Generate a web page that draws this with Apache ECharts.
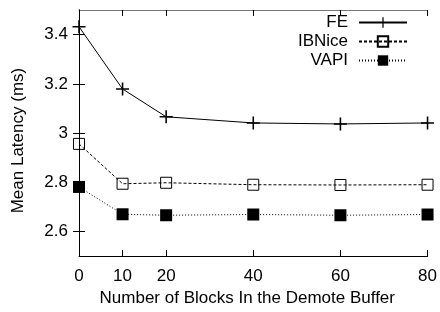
<!DOCTYPE html>
<html>
<head>
<meta charset="utf-8">
<script src="https://cdn.jsdelivr.net/npm/echarts@6/dist/echarts.min.js"></script>
<style>
  html, body { margin: 0; padding: 0; background: #fff; }
  #chart { width: 440px; height: 312px; }
</style>
</head>
<body>
<div id="chart"></div>
<script>
const xValues = [0, 10, 20, 40, 60, 80];
const feValues = [3.432, 3.179, 3.066, 3.041, 3.037, 3.041];
const ibniceValues = [2.956, 2.794, 2.798, 2.790, 2.789, 2.790];
const vapiValues = [2.781, 2.670, 2.666, 2.669, 2.666, 2.669];
const xTickLabels = [0, 10, 20, 40, 60, 80];
const yTickLabels = [2.6, 2.8, 3, 3.2, 3.4];

const font = 'Liberation Sans, Arial, sans-serif';
const plusPath = 'path://M0,4.4H10V5.6H0Z M4.4,0H5.6V10H4.4Z';

const chart = echarts.init(document.getElementById('chart'));

const pair = (ys) => xValues.map((x, i) => [x, ys[i]]);

const mirrorAxis = (extra) => Object.assign({
  type: 'value',
  axisLine: {show: true, lineStyle: {color: '#000', width: 1}},
  splitLine: {show: false},
  axisTick: {show: true, inside: true, length: 6, lineStyle: {color: '#000'}},
  axisLabel: {show: false}
}, extra);

let option = {
  animation: false,
  backgroundColor: '#fff',
  textStyle: {fontFamily: font},
  grid: {
    left: 79,
    right: 11,
    top: 10,
    bottom: 55
  },
  legend: {
    orient: 'vertical',
    right: 32,
    top: 14,
    padding: 0,
    align: 'right',
    itemWidth: 48,
    itemHeight: 13,
    itemGap: 2,
    textStyle: {
      fontFamily: font,
      fontSize: 17,
      color: '#000',
      lineHeight: 16,
      padding: [0, 6, 0, 0]
    },
    data: ['FE', 'IBNice', 'VAPI']
  },
  xAxis: [
    mirrorAxis({
      min: 0,
      max: 80,
      position: 'bottom',
      name: 'Number of Blocks In the Demote Buffer',
      nameLocation: 'middle',
      nameGap: 28,
      nameTextStyle: {fontFamily: font, fontSize: 17, color: '#000', padding: [0, 12, 0, 0]},
      axisTick: {show: true, inside: true, length: 6, customValues: xTickLabels, lineStyle: {color: '#000'}},
      axisLabel: {show: true, customValues: xTickLabels, margin: 12, fontFamily: font, fontSize: 17, color: '#000'}
    }),
    mirrorAxis({
      min: 0,
      max: 80,
      position: 'top',
      axisLine: {show: true, lineStyle: {color: '#777', width: 1}},
      axisTick: {show: true, inside: true, length: 6, customValues: xTickLabels, lineStyle: {color: '#000'}}
    })
  ],
  yAxis: [
    mirrorAxis({
      min: 2.5,
      max: 3.5,
      position: 'left',
      name: 'Mean Latency (ms)',
      nameLocation: 'middle',
      nameGap: 52,
      nameTextStyle: {fontFamily: font, fontSize: 17, color: '#000', padding: [0, 15, 0, 0]},
      axisTick: {show: true, inside: true, length: 6, customValues: yTickLabels, lineStyle: {color: '#000'}},
      axisLabel: {show: true, customValues: yTickLabels, margin: 11, fontFamily: font, fontSize: 17, color: '#000'}
    }),
    mirrorAxis({
      min: 2.5,
      max: 3.5,
      position: 'right',
      axisTick: {show: true, inside: true, length: 6, customValues: yTickLabels, lineStyle: {color: '#000'}}
    })
  ],
  series: [
    {
      name: 'FE',
      type: 'line',
      data: pair(feValues),
      clip: false,
      symbol: plusPath,
      symbolSize: 13,
      itemStyle: {color: '#000'},
      lineStyle: {color: '#000', width: 1, type: 'solid'}
    },
    {
      name: 'IBNice',
      type: 'line',
      data: pair(ibniceValues),
      clip: false,
      symbol: 'rect',
      symbolSize: 11,
      itemStyle: {color: 'rgba(255,255,255,0)', borderColor: '#000', borderWidth: 1},
      lineStyle: {color: '#000', width: 1, type: [3, 2]}
    },
    {
      name: 'VAPI',
      type: 'line',
      data: pair(vapiValues),
      clip: false,
      symbol: 'rect',
      symbolSize: 12,
      itemStyle: {color: '#000'},
      lineStyle: {color: '#000', width: 1, type: [1, 2]}
    }
  ]
};

chart.setOption(option);
</script>
</body>
</html>
